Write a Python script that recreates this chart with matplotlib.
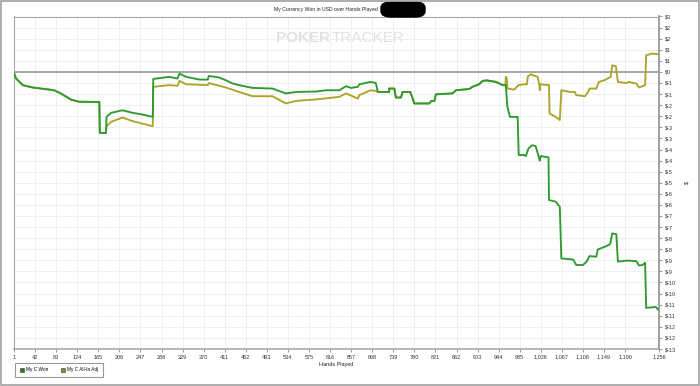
import numpy as np
import matplotlib
matplotlib.use("Agg")
import matplotlib.pyplot as plt
from matplotlib.patches import Patch, FancyBboxPatch, Rectangle

# ── Data ──────────────────────────────────────────────────────────────────────
won_hands = [1, 5, 18, 37, 70, 79, 92, 112, 128, 167, 168, 180, 181, 190, 212,
             232, 251, 271, 272, 303, 319, 323, 336, 362, 378, 380, 400, 413,
             426, 439, 465, 504, 530, 550, 589, 608, 634, 647, 657, 670, 673,
             695, 705, 709, 731, 731, 741, 744, 754, 757, 772, 776, 780, 809,
             813, 819, 822, 854, 861, 887, 893, 906, 913, 922, 926, 939, 952,
             958, 961, 966, 981, 983, 994, 997, 1002, 1009, 1016, 1021, 1024,
             1026, 1041, 1042, 1055, 1063, 1066, 1089, 1095, 1108, 1115, 1121,
             1134, 1137, 1154, 1161, 1165, 1173, 1176, 1195, 1212, 1217, 1224,
             1229, 1231, 1250, 1254]
won_values = [-0.05, -0.31, -0.62, -0.73, -0.83, -0.86, -1.01, -1.30, -1.40,
              -1.41, -2.86, -2.86, -2.11, -1.92, -1.80, -1.92, -2.00, -2.11,
              -0.33, -0.23, -0.31, -0.08, -0.23, -0.36, -0.36, -0.19, -0.26,
              -0.39, -0.54, -0.62, -0.75, -0.78, -1.01, -0.94, -0.92, -0.86,
              -0.86, -0.67, -0.75, -0.70, -0.58, -0.47, -0.52, -0.94, -0.94,
              -0.78, -0.78, -1.20, -1.20, -0.94, -0.94, -1.20, -1.48, -1.48,
              -1.36, -1.36, -1.05, -1.01, -0.86, -0.80, -0.70, -0.58, -0.42,
              -0.40, -0.42, -0.47, -0.62, -0.62, -1.64, -2.11, -2.11, -3.90,
              -3.90, -3.95, -3.59, -3.44, -3.48, -3.90, -4.17, -3.95, -4.01,
              -6.01, -6.09, -6.33, -8.75, -8.80, -9.06, -9.06, -8.91, -8.64,
              -8.67, -8.33, -8.17, -8.08, -7.58, -7.61, -8.90, -8.85, -8.88,
              -9.08, -9.06, -8.95, -11.07, -11.03, -11.15]

adj_hands = [1, 5, 18, 37, 70, 79, 92, 112, 128, 167, 168, 180, 181, 190, 212,
             232, 271, 272, 303, 319, 323, 336, 378, 380, 413, 439, 465, 504,
             530, 550, 589, 634, 647, 670, 673, 695, 705, 709, 731, 731, 741,
             744, 754, 757, 772, 776, 780, 809, 813, 819, 822, 854, 861, 887,
             893, 906, 913, 922, 926, 939, 952, 957, 958, 960, 961, 974, 983,
             994, 999, 1001, 1007, 1010, 1020, 1023, 1024, 1025, 1042, 1043,
             1055, 1063, 1066, 1082, 1092, 1095, 1112, 1118, 1121, 1134, 1139,
             1150, 1162, 1165, 1172, 1176, 1192, 1198, 1212, 1217, 1224, 1229,
             1231, 1243, 1254]
adj_values = [-0.05, -0.31, -0.62, -0.73, -0.83, -0.86, -1.01, -1.30, -1.40,
              -1.41, -2.86, -2.86, -2.55, -2.34, -2.14, -2.31, -2.55, -0.70,
              -0.62, -0.65, -0.42, -0.58, -0.62, -0.52, -0.73, -0.94, -1.14,
              -1.14, -1.48, -1.36, -1.29, -1.17, -1.01, -1.25, -1.09, -0.86,
              -0.89, -0.94, -0.94, -0.78, -0.78, -1.20, -1.20, -0.94, -0.94,
              -1.20, -1.48, -1.48, -1.36, -1.36, -1.05, -1.01, -0.86, -0.80,
              -0.70, -0.58, -0.42, -0.40, -0.42, -0.47, -0.62, -0.62, -0.23,
              -0.31, -0.78, -0.83, -0.62, -0.58, -0.58, -0.20, -0.11, -0.15,
              -0.23, -0.58, -0.86, -0.58, -0.62, -1.95, -2.11, -2.26, -0.86,
              -0.94, -0.94, -1.09, -1.14, -0.94, -0.78, -0.78, -0.47, -0.39,
              -0.23, 0.31, 0.27, -0.47, -0.52, -0.47, -0.55, -0.73, -0.67,
              -0.62, 0.78, 0.86, 0.83]

x_ticks = [1, 42, 83, 124, 165, 206, 247, 288, 329, 370, 411, 452, 493, 534,
           575, 616, 657, 698, 739, 780, 821, 862, 903, 944, 985, 1026, 1067,
           1108, 1149, 1190, 1256]
x_tick_labels = [f"{t:,}" for t in x_ticks]

y_ticks = np.linspace(-13, 2.6, 31)
y_tick_labels = ["$-13", "$-12", "$-12", "$-11", "$-11", "$-10", "$-10",
                 "$-9", "$-9", "$-8", "$-8", "$-7", "$-7", "$-6", "$-6",
                 "$-5", "$-5", "$-4", "$-4", "$-3", "$-3", "$-2", "$-2",
                 "$-1", "$-1", "$0", "$1", "$1", "$2", "$2", "$3"]

WON_COLOR = "#2f9a2f"
ADJ_COLOR = "#aba52c"

plt.rcParams.update({
    "font.family": ["Liberation Sans", "DejaVu Sans"],
    "font.size": 4,
})

fig = plt.figure(figsize=(7.0, 3.86), dpi=100)
ax = fig.add_axes([14 / 700, 1 - 349 / 386, (659 - 14) / 700, (349 - 16.5) / 386])

ax.plot(adj_hands, adj_values, color=ADJ_COLOR, lw=1.35, zorder=3)
ax.plot(won_hands, won_values, color=WON_COLOR, lw=1.35, zorder=4)
ax.axhline(0, color="#9a9a9a", lw=1.2, zorder=2)

ax.set_xlim(1, 1256)
ax.set_ylim(-13, 2.6)
ax.set_xticks(x_ticks)
ax.set_xticklabels(x_tick_labels, fontsize=4, color="#333333")
ax.set_yticks(y_ticks)
ax.set_yticklabels(y_tick_labels, fontsize=4, color="#333333")
ax.yaxis.tick_right()
ax.yaxis.set_label_position("right")
ax.tick_params(axis="both", length=2.5, width=0.6, color="#888888", pad=1.5)
ax.grid(True, color="#ededed", lw=0.6)
ax.set_axisbelow(True)
for s in ax.spines.values():
    s.set_color("#a8a8a8")
    s.set_linewidth(0.8)
ax.spines["right"].set_color("#909090")
ax.spines["right"].set_linewidth(1.2)
ax.spines["bottom"].set_linewidth(1.2)

ax.set_xlabel("Hands Played", fontsize=4, labelpad=1.5, color="#222222")
ax.set_ylabel("$", fontsize=4, labelpad=6, color="#222222")

# title + redaction blob
fig.text(378 / 700, 1 - 9.5 / 386, "My Currency Won in USD over Hands Played",
         ha="right", va="center", fontsize=3.7, color="#222222")
fig.patches.append(FancyBboxPatch((381 / 700, 1 - 17 / 386), 44 / 700, 15 / 386,
                                  boxstyle="round,pad=0,rounding_size=0.015",
                                  transform=fig.transFigure, fc="black",
                                  ec="black", figure=fig))

# watermark
ax.text(0.49, 0.935, "POKER", transform=ax.transAxes, ha="right", va="center",
        fontsize=11, fontweight="bold", color="#e2e2e2", zorder=1)
ax.text(0.493, 0.935, "TRACKER", transform=ax.transAxes, ha="left", va="center",
        fontsize=11, color="#e2e2e2", zorder=1)

# legend
handles = [Patch(fc="#1f7f1f", ec="#555555", lw=0.5, label="My C Won"),
           Patch(fc="#8f8a22", ec="#555555", lw=0.5, label="My C All-In Adj")]
leg = fig.legend(handles=handles, loc="lower left",
                 bbox_to_anchor=(13 / 700, 7 / 386), ncol=2, fontsize=3.4,
                 handlelength=0.9, handleheight=0.9, handletextpad=0.5,
                 columnspacing=2.6, borderpad=0.9, fancybox=False,
                 edgecolor="#999999", framealpha=1)
leg.get_frame().set_linewidth(0.8)

# outer border
fig.patches.append(Rectangle((0.001, 0.002), 0.997, 0.995, transform=fig.transFigure,
                             fill=False, ec="#a0a0a0", lw=1.2, figure=fig))

fig.savefig("out.png", dpi=100)
